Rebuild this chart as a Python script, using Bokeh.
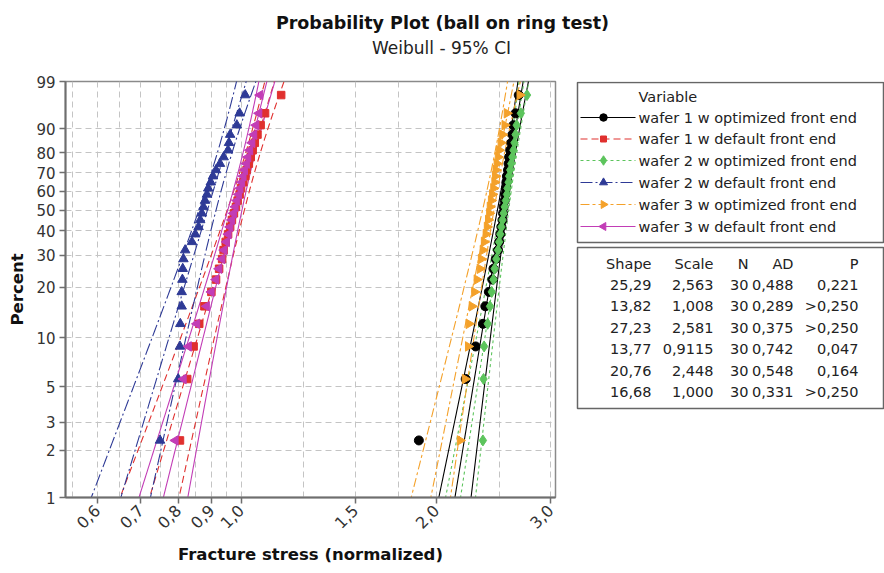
import numpy as np
from bokeh.plotting import figure
from bokeh.models import Range1d, FixedTicker, CustomJSTickFormatter
from bokeh.layouts import column, row
from bokeh.embed import file_html
from bokeh.resources import INLINE
from bokeh.core.properties import value

# ---------------- data ----------------
series_names = ["wafer 1 w optimized front end", "wafer 1 w default front end",
                "wafer 2 w optimized front end", "wafer 2 w default front end",
                "wafer 3 w optimized front end", "wafer 3 w default front end"]
shape = [25.29, 13.82, 27.23, 13.77, 20.76, 16.68]
scale = [2.563, 1.008, 2.581, 0.9115, 2.448, 1.000]
n_obs = [30, 30, 30, 30, 30, 30]
ad = [0.488, 0.289, 0.375, 0.742, 0.548, 0.331]
shape_txt = ["25,29", "13,82", "27,23", "13,77", "20,76", "16,68"]
scale_txt = ["2,563", "1,008", "2,581", "0,9115", "2,448", "1,000"]
ad_txt = ["0,488", "0,289", "0,375", "0,742", "0,548", "0,331"]
p_txt = ["0,221", ">0,250", ">0,250", "0,047", "0,164", ">0,250"]

w1_opt = [1.88, 2.22, 2.30, 2.36, 2.38, 2.41, 2.44, 2.45, 2.47, 2.49, 2.50, 2.51, 2.52, 2.53, 2.535,
          2.54, 2.55, 2.555, 2.56, 2.565, 2.57, 2.58, 2.585, 2.59, 2.60, 2.61, 2.62, 2.63, 2.65, 2.68]
w1_def = [0.805, 0.826, 0.845, 0.862, 0.878, 0.90, 0.915, 0.925, 0.935, 0.94, 0.947, 0.955, 0.962, 0.968, 0.975,
          0.982, 0.988, 0.995, 1.0, 1.008, 1.015, 1.02, 1.028, 1.035, 1.042, 1.05, 1.06, 1.072, 1.089, 1.153]
w2_opt = [2.36, 2.365, 2.37, 2.40, 2.42, 2.435, 2.45, 2.46, 2.475, 2.49, 2.50, 2.51, 2.52, 2.53, 2.54,
          2.55, 2.56, 2.57, 2.575, 2.585, 2.59, 2.60, 2.61, 2.62, 2.63, 2.64, 2.65, 2.66, 2.70, 2.76]
w2_def = [0.75, 0.80, 0.805, 0.806, 0.81, 0.81, 0.812, 0.813, 0.815, 0.82, 0.84, 0.85, 0.86, 0.865, 0.87,
          0.875, 0.88, 0.886, 0.89, 0.898, 0.905, 0.915, 0.928, 0.94, 0.955, 0.958, 0.962, 0.985, 0.995, 1.015]
w3_opt = [2.176, 2.215, 2.24, 2.245, 2.27, 2.29, 2.31, 2.335, 2.345, 2.36, 2.37, 2.385, 2.395, 2.405, 2.415,
          2.42, 2.43, 2.44, 2.45, 2.46, 2.465, 2.47, 2.48, 2.49, 2.50, 2.515, 2.53, 2.55, 2.57, 2.69]
w3_def = [0.792, 0.815, 0.83, 0.855, 0.885, 0.90, 0.915, 0.925, 0.935, 0.942, 0.95, 0.956, 0.962, 0.968, 0.974,
          0.98, 0.986, 0.992, 0.997, 1.003, 1.008, 1.013, 1.02, 1.025, 1.032, 1.04, 1.047, 1.055, 1.066, 1.07]
samples = [w1_opt, w1_def, w2_opt, w2_def, w3_opt, w3_def]

pct_ticks = [1, 2, 3, 5, 10, 20, 30, 40, 50, 60, 70, 80, 90, 99]
x_ticks = [0.6, 0.7, 0.8, 0.9, 1.0, 1.5, 2.0, 3.0]
x_grid = [0.55, 0.6, 0.65, 0.7, 0.75, 0.8, 0.85, 0.9, 0.95, 1.0, 1.25, 1.5, 1.75, 2.0, 2.5, 3.0]

# ---------------- styles ----------------
colors = ["#000000", "#E0302E", "#5CC45C", "#2E3A96", "#F4A12A", "#C23DB6"]
dashes = ["solid", "7 4", "3 3", "12 3 2 3", "9 3 3 3", "solid"]
markers = ["circle", "square", "diamond", "triangle", "triangle", "triangle"]
angles = [0, 0, 0, 0, -np.pi / 2, np.pi / 2]
msizes = [9, 7.5, 11, 9.5, 9.5, 9.5]
FONT = "DejaVu Sans"


def wz(pct):
    q = np.asarray(pct, dtype=float) / 100.0
    return np.log(-np.log(1.0 - q))


z_lo, z_hi = float(wz(1)), float(wz(99))

# ---------------- title figure ----------------
t = figure(width=884, height=68, x_range=Range1d(0, 884), y_range=Range1d(68, 0),
           toolbar_location=None, output_backend="svg", min_border=0)
t.axis.visible = False
t.grid.visible = False
t.outline_line_color = None
t.text(x=[442], y=[22.5], text=["Probability Plot (ball on ring test)"], text_align="center",
       text_baseline="alphabetic", text_font=value(FONT), text_font_size=value("17.5px"),
       text_font_style="bold", text_color="#111111")
t.text(x=[441], y=[47], text=["Weibull - 95% CI"], text_align="center",
       text_baseline="alphabetic", text_font=value(FONT), text_font_size=value("17px"),
       text_color="#222222")

# ---------------- main plot ----------------
p = figure(width=570, height=505, x_axis_type="log",
           x_range=Range1d(0.5362, 3.0536), y_range=Range1d(z_lo, z_hi),
           toolbar_location=None, output_backend="svg",
           min_border_left=65, min_border_right=15, min_border_top=13, min_border_bottom=76)
p.outline_line_color = "#8a8a8a"
p.outline_line_width = 1.5
p.background_fill_color = "white"

p.xaxis.ticker = FixedTicker(ticks=x_ticks)
p.xaxis.formatter = CustomJSTickFormatter(code="return tick.toFixed(1).replace('.', ',');")
p.xaxis.major_label_orientation = np.pi / 4
p.yaxis.ticker = FixedTicker(ticks=list(wz(pct_ticks)))
p.yaxis.formatter = CustomJSTickFormatter(
    code="return String(Math.round(100*(1-Math.exp(-Math.exp(tick)))));")

p.xgrid.ticker = FixedTicker(ticks=x_grid)
p.ygrid.ticker = FixedTicker(ticks=list(wz(pct_ticks)))
for g in (p.xgrid, p.ygrid):
    g.grid_line_color = "#c4c4c4"
    g.grid_line_dash = "6 4"
    g.grid_line_width = 1

for ax in (p.xaxis, p.yaxis):
    ax.axis_line_color = "#6e6e6e"
    ax.axis_line_width = 2
    ax.major_tick_line_color = "#6e6e6e"
    ax.major_tick_line_width = 1.5
    ax.major_tick_out = 6
    ax.major_tick_in = 0
    ax.minor_tick_line_color = None
    ax.major_label_text_font = FONT
    ax.major_label_text_font_size = "15px"
    ax.major_label_text_color = "#333333"
    ax.axis_label_text_font = FONT
    ax.axis_label_text_font_size = "16.5px"
    ax.axis_label_text_font_style = "bold"
    ax.axis_label_text_color = "#111111"
p.xaxis.major_label_text_font_size = "16px"
p.xaxis.axis_label = "Fracture stress (normalized)"
p.yaxis.axis_label = "Percent"
p.xaxis.axis_label_standoff = 8
p.yaxis.axis_label_standoff = 6
p.xaxis.major_label_standoff = 4
p.yaxis.major_label_standoff = 4

zz = np.linspace(z_lo - 0.1, z_hi + 0.1, 120)
for k in range(6):
    b = 1.0 / shape[k]
    u = np.log(scale[k])
    yfit = u + b * zz
    se = b * np.sqrt((1.1087 - 0.5140 * zz + 0.6079 * zz ** 2) / n_obs[k])
    for curve in (yfit, yfit - 1.96 * se, yfit + 1.96 * se):
        p.line(np.exp(curve), zz, line_color=colors[k], line_dash=dashes[k], line_width=1.1)

for k in range(6):
    n = len(samples[k])
    ranks = (np.arange(1, n + 1) - 0.3) / (n + 0.4) * 100
    p.scatter(sorted(samples[k]), wz(ranks), marker=markers[k], angle=angles[k],
              size=msizes[k], fill_color=colors[k], line_color=colors[k])

# ---------------- legend / table figure (page pixel coordinates) ----------------
# its frame is aligned with the main plot frame (page y 81..497)
s = figure(width=314, height=505, x_range=Range1d(570, 884), y_range=Range1d(497, 81),
           toolbar_location=None, output_backend="svg", min_border=0)
s.axis.visible = False
s.grid.visible = False
s.outline_line_color = None

s.quad(left=[577, 577], right=[883, 883], top=[82, 247], bottom=[242, 408],
       fill_color=None, line_color="#666666", line_width=1.5)

LF = "14.5px"
s.text(x=[638], y=[96], text=["Variable"], text_font=value(FONT), text_font_size=value(LF),
       text_baseline="middle", text_color="#222222")
row_y = [117, 138.5, 160, 182, 204, 226]
for k in range(6):
    s.segment(x0=[580], y0=[row_y[k]], x1=[635], y1=[row_y[k]], line_color=colors[k],
              line_dash=dashes[k], line_width=1.2)
    s.scatter([603], [row_y[k]], marker=markers[k], angle=angles[k], size=msizes[k] - 1.5,
              fill_color=colors[k], line_color=colors[k])
s.text(x=[638] * 6, y=row_y, text=series_names, text_font=value(FONT), text_font_size=value(LF),
       text_baseline="middle", text_color="#222222")

col_x = [651, 713, 748, 793, 858]
headers = ["Shape", "Scale", "N", "AD", "P"]
s.text(x=col_x, y=[263] * 5, text=headers, text_align="right", text_baseline="middle",
       text_font=value(FONT), text_font_size=value(LF), text_color="#222222")
tab_y = [284, 305.5, 327, 348.5, 370, 391.5]
cols = [shape_txt, scale_txt, [str(v) for v in n_obs], ad_txt, p_txt]
for j, c in enumerate(cols):
    s.text(x=[col_x[j]] * 6, y=tab_y, text=c, text_align="right", text_baseline="middle",
           text_font=value(FONT), text_font_size=value(LF), text_color="#222222")

layout = column(t, row(p, s))
open("out.html", "w").write(file_html(layout, INLINE))
